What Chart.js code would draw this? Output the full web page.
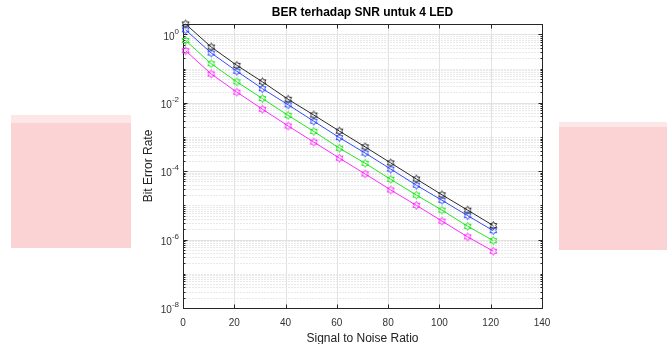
<!DOCTYPE html>
<html>
<head>
<meta charset="utf-8">
<script src="https://cdn.jsdelivr.net/npm/chart.js@4.4.1/dist/chart.umd.min.js"></script>
<style>
  body { margin: 0; background: #fff; }
  #wrap { position: relative; width: 667px; height: 344px; overflow: hidden; }
  .band { position: absolute; background: #fcd3d4; }
  .band-top { position: absolute; background: #fde6e6; }
  canvas { position: absolute; left: 0; top: 0; }
</style>
</head>
<body>
<div id="wrap">
  <div class="band-top" style="left:11px; top:115px; width:120px; height:8px;"></div>
  <div class="band" style="left:11px; top:123px; width:120px; height:125px;"></div>
  <div class="band-top" style="left:559px; top:122px; width:108px; height:5px;"></div>
  <div class="band" style="left:559px; top:127px; width:108px; height:123px;"></div>
  <canvas id="berChart" width="667" height="344"></canvas>
</div>
<script>
// values
const snrValues = [1, 11, 21, 31, 41, 51, 61, 71, 81, 91, 101, 111, 121];
const berBlack = [2.0, 0.425, 0.124, 0.0407, 0.0126, 0.00437, 0.00148, 5.13e-4, 1.74e-4, 5.89e-5, 2.04e-5, 7.24e-6, 2.57e-6];
const berBlue = [1.35, 0.284, 0.0832, 0.0257, 0.00871, 0.00288, 9.55e-4, 3.39e-4, 1.15e-4, 3.89e-5, 1.41e-5, 5.01e-6, 1.82e-6];
const berGreen = [0.661, 0.138, 0.0407, 0.0132, 0.00427, 0.00145, 4.68e-4, 1.70e-4, 5.75e-5, 2.00e-5, 7.24e-6, 2.45e-6, 9.33e-7];
const berMagenta = [0.331, 0.0692, 0.0204, 0.00646, 0.00209, 7.08e-4, 2.40e-4, 8.32e-5, 2.82e-5, 1.00e-5, 3.47e-6, 1.20e-6, 4.57e-7];

const xTickValues = [0, 20, 40, 60, 80, 100, 120, 140];
const yLabelExponents = [0, -2, -4, -6, -8];
const yMin = 1e-8;
const yMax = 2;

const FONT = "'Liberation Sans', Arial, Helvetica, sans-serif";

// minor grid positions: 2..9 of every decade plus the odd decades
const yMinorTicks = [];
for (let e = -8; e <= 0; e++) {
  if (e % 2 !== 0) yMinorTicks.push(Math.pow(10, e));
  for (let m = 2; m <= 9; m++) {
    const v = m * Math.pow(10, e);
    if (v <= yMax) yMinorTicks.push(v);
  }
}

// hexagram marker as a small canvas
const makeHexagram = (color) => {
  const c = document.createElement('canvas');
  c.width = 11;
  c.height = 11;
  const g = c.getContext('2d');
  const R = 4, r = R / Math.sqrt(3);
  g.beginPath();
  for (let i = 0; i < 12; i++) {
    const ang = -Math.PI / 2 + i * Math.PI / 6;
    const rad = i % 2 === 0 ? R : r;
    const px = 5.5 + rad * Math.cos(ang), py = 5.5 + rad * Math.sin(ang);
    if (i === 0) g.moveTo(px, py); else g.lineTo(px, py);
  }
  g.closePath();
  g.strokeStyle = color;
  g.lineWidth = 1;
  g.stroke();
  return c;
};

const series = [
  { label: 'Kurva 1', data: berBlack, color: '#2a2a2a' },
  { label: 'Kurva 2', data: berBlue, color: '#2f4dff' },
  { label: 'Kurva 3', data: berGreen, color: '#1fe61f' },
  { label: 'Kurva 4', data: berMagenta, color: '#ff2cff' },
];

const px = (v) => Math.round(v) + 0.5;

// grid, box, inward ticks and the 10^n labels, MATLAB style
const matlabAxes = {
  id: 'matlabAxes',
  beforeDatasetsDraw(chart) {
    const { ctx, chartArea: a, scales: { x, y } } = chart;
    const L = px(a.left), R = px(a.right), T = px(a.top), B = px(a.bottom);
    ctx.save();
    ctx.lineWidth = 1;

    // minor dotted grid
    ctx.strokeStyle = '#d2d2d2';
    ctx.setLineDash([1, 2]);
    yMinorTicks.forEach((v) => {
      const p = px(y.getPixelForValue(v));
      ctx.beginPath(); ctx.moveTo(L, p); ctx.lineTo(R, p); ctx.stroke();
    });
    ctx.setLineDash([]);

    // major grid
    ctx.strokeStyle = '#e2e2e2';
    xTickValues.forEach((v) => {
      const p = px(x.getPixelForValue(v));
      ctx.beginPath(); ctx.moveTo(p, T); ctx.lineTo(p, B); ctx.stroke();
    });
    yLabelExponents.forEach((e) => {
      const p = px(y.getPixelForValue(Math.pow(10, e)));
      ctx.beginPath(); ctx.moveTo(L, p); ctx.lineTo(R, p); ctx.stroke();
    });

    // box
    ctx.strokeStyle = '#262626';
    ctx.strokeRect(L, T, R - L, B - T);

    // inward ticks
    ctx.beginPath();
    xTickValues.forEach((v) => {
      const p = px(x.getPixelForValue(v));
      ctx.moveTo(p, B); ctx.lineTo(p, B - 4);
      ctx.moveTo(p, T); ctx.lineTo(p, T + 4);
    });
    yLabelExponents.forEach((e) => {
      const p = px(y.getPixelForValue(Math.pow(10, e)));
      ctx.moveTo(L, p); ctx.lineTo(L + 4, p);
      ctx.moveTo(R, p); ctx.lineTo(R - 4, p);
    });
    yMinorTicks.forEach((v) => {
      const p = px(y.getPixelForValue(v));
      ctx.moveTo(L, p); ctx.lineTo(L + 2, p);
      ctx.moveTo(R, p); ctx.lineTo(R - 2, p);
    });
    ctx.stroke();

    // y labels with superscript exponents
    ctx.fillStyle = '#333';
    ctx.textAlign = 'right';
    ctx.textBaseline = 'middle';
    yLabelExponents.forEach((e) => {
      const p = y.getPixelForValue(Math.pow(10, e));
      const expText = e === 0 ? '0' : '-' + Math.abs(e);
      const right = a.left - 4;
      ctx.font = '8px ' + FONT;
      ctx.fillText(expText, right, p - 3);
      const w = ctx.measureText(expText).width;
      ctx.font = '10px ' + FONT;
      ctx.fillText('10', right - w, p + 2.5);
    });
    ctx.restore();
  }
};

const ctx = document.getElementById('berChart').getContext('2d');
new Chart(ctx, {
  type: 'line',
  data: {
    datasets: series.map((s) => ({
      label: s.label,
      data: snrValues.map((v, i) => ({ x: v, y: s.data[i] })),
      borderColor: s.color,
      backgroundColor: s.color,
      borderWidth: 1,
      pointStyle: makeHexagram(s.color),
      pointRadius: 4,
      tension: 0,
      clip: false,
    })),
  },
  options: {
    responsive: false,
    animation: false,
    devicePixelRatio: 1,
    layout: { padding: { left: 130, right: 125, top: 0, bottom: 0 } },
    plugins: {
      legend: { display: false },
      tooltip: { enabled: false },
      title: {
        display: true,
        text: 'BER terhadap SNR untuk 4 LED',
        fullSize: false,
        color: '#000',
        font: { family: FONT, size: 12, weight: 'bold' },
        padding: { top: 5.8, bottom: 3.8 },
      },
    },
    scales: {
      x: {
        type: 'linear',
        min: 0,
        max: 140,
        grid: { display: false },
        border: { display: false },
        ticks: {
          stepSize: 20,
          color: '#333',
          padding: 1,
          maxRotation: 0,
          font: { family: FONT, size: 10 },
        },
        title: {
          display: true,
          text: 'Signal to Noise Ratio',
          color: '#222',
          font: { family: FONT, size: 12 },
          padding: { top: 0, bottom: -2 },
        },
        afterFit: (scale) => { scale.height = 36; },
      },
      y: {
        type: 'logarithmic',
        min: yMin,
        max: yMax,
        grid: { display: false },
        border: { display: false },
        ticks: { display: false },
        title: {
          display: true,
          text: 'Bit Error Rate',
          color: '#222',
          font: { family: FONT, size: 12 },
          padding: { top: 11, bottom: 0 },
        },
        afterFit: (scale) => { scale.width = 53; },
      },
    },
  },
  plugins: [matlabAxes],
});
</script>
</body>
</html>
